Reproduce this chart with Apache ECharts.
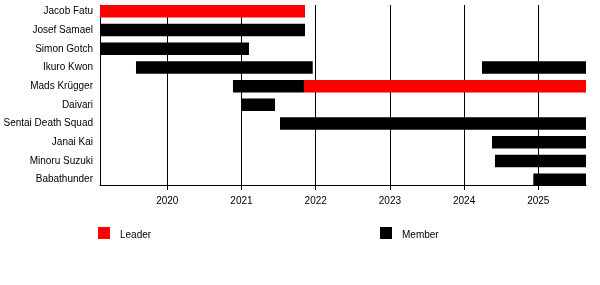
<!DOCTYPE html>
<html>
<head>
<meta charset="utf-8">
<script src="https://cdn.jsdelivr.net/npm/echarts@6/dist/echarts.min.js"></script>
<style>html,body{margin:0;padding:0;background:#fff}#c{width:600px;height:285px}</style>
</head>
<body>
<div id="c"></div>
<script>
// Row names (top to bottom)
var names = ['Jacob Fatu','Josef Samael','Simon Gotch','Ikuro Kwon','Mads Krügger','Daivari','Sentai Death Squad','Janai Kai','Minoru Suzuki','Babathunder'];
// Timeline extent (decimal years)
var startYear = 2019.093;
var endYear = 2025.643;
// Tick labels
var years = [2020, 2021, 2022, 2023, 2024, 2025];
// Periods: [row, from, to]
var leaderPeriods = [
  [0, 2019.093, 2021.856],
  [4, 2021.842, 2025.643]
];
var memberPeriods = [
  [1, 2019.093, 2021.856],
  [2, 2019.093, 2021.101],
  [3, 2019.578, 2021.960],
  [3, 2024.241, 2025.643],
  [4, 2020.885, 2021.842],
  [5, 2021.000, 2021.452],
  [6, 2021.519, 2025.643],
  [7, 2024.376, 2025.643],
  [8, 2024.416, 2025.643],
  [9, 2024.933, 2025.643]
];

var FONT = '"Liberation Sans", Arial, Helvetica, sans-serif';
function renderBar(params, api) {
  var row = api.value(0);
  var p0 = api.coord([api.value(1), row]);
  var p1 = api.coord([api.value(2), row]);
  var h = 12.5;
  return {
    type: 'rect',
    shape: { x: p0[0], y: p0[1] - h / 2, width: p1[0] - p0[0], height: h },
    style: { fill: api.visual('color') }
  };
}
var legendText = {
  fontFamily: FONT, fontSize: 10, color: '#000',
  rich: { t: { fontFamily: FONT, fontSize: 10, color: '#000', padding: [5, 0, 0, 5] } }
};
function legendFmt(n) { return '{t|' + n + '}'; }

var chart = echarts.init(document.getElementById('c'), null, { renderer: 'canvas' });
chart.setOption({
  animation: false,
  backgroundColor: '#fff',
  textStyle: { fontFamily: FONT },
  grid: [
    { left: 100, right: 14, top: 2, height: 187 },
    { left: 100, right: 14, top: 5, bottom: 100 }
  ],
  legend: [
    { data: ['Leader'], left: 98, top: 227, padding: 0, icon: 'rect', itemWidth: 12, itemHeight: 12,
      formatter: legendFmt, textStyle: legendText },
    { data: ['Member'], left: 380, top: 227, padding: 0, icon: 'rect', itemWidth: 12, itemHeight: 12,
      formatter: legendFmt, textStyle: legendText }
  ],
  xAxis: [
    { gridIndex: 0, type: 'value', min: startYear, max: endYear, show: false },
    { gridIndex: 1, type: 'value', min: startYear, max: endYear,
      axisLine: { show: true, lineStyle: { color: '#000', width: 1 } },
      axisTick: { show: true, length: 5, lineStyle: { color: '#000' }, customValues: years },
      axisLabel: { show: true, customValues: years, margin: 11, fontSize: 10, color: '#000', fontFamily: FONT,
        formatter: function (v) { return String(Math.round(v)); } },
      splitLine: { show: true, lineStyle: { color: '#000', width: 1 } }
    }
  ],
  yAxis: [
    { gridIndex: 0, type: 'category', data: names, inverse: true,
      axisLine: { show: false }, axisTick: { show: false }, splitLine: { show: false },
      axisLabel: { fontSize: 10, color: '#000', margin: 7, fontFamily: FONT } },
    { gridIndex: 1, type: 'value', min: 0, max: 1,
      axisLine: { show: true, lineStyle: { color: '#000', width: 1 } },
      axisTick: { show: false }, axisLabel: { show: false }, splitLine: { show: false } }
  ],
  series: [
    { name: 'Leader', type: 'custom', xAxisIndex: 0, yAxisIndex: 0, itemStyle: { color: '#ff0000' },
      renderItem: renderBar, encode: { x: [1, 2], y: 0 }, data: leaderPeriods, z: 5 },
    { name: 'Member', type: 'custom', xAxisIndex: 0, yAxisIndex: 0, itemStyle: { color: '#000000' },
      renderItem: renderBar, encode: { x: [1, 2], y: 0 }, data: memberPeriods, z: 5 }
  ]
});
</script>
</body>
</html>
